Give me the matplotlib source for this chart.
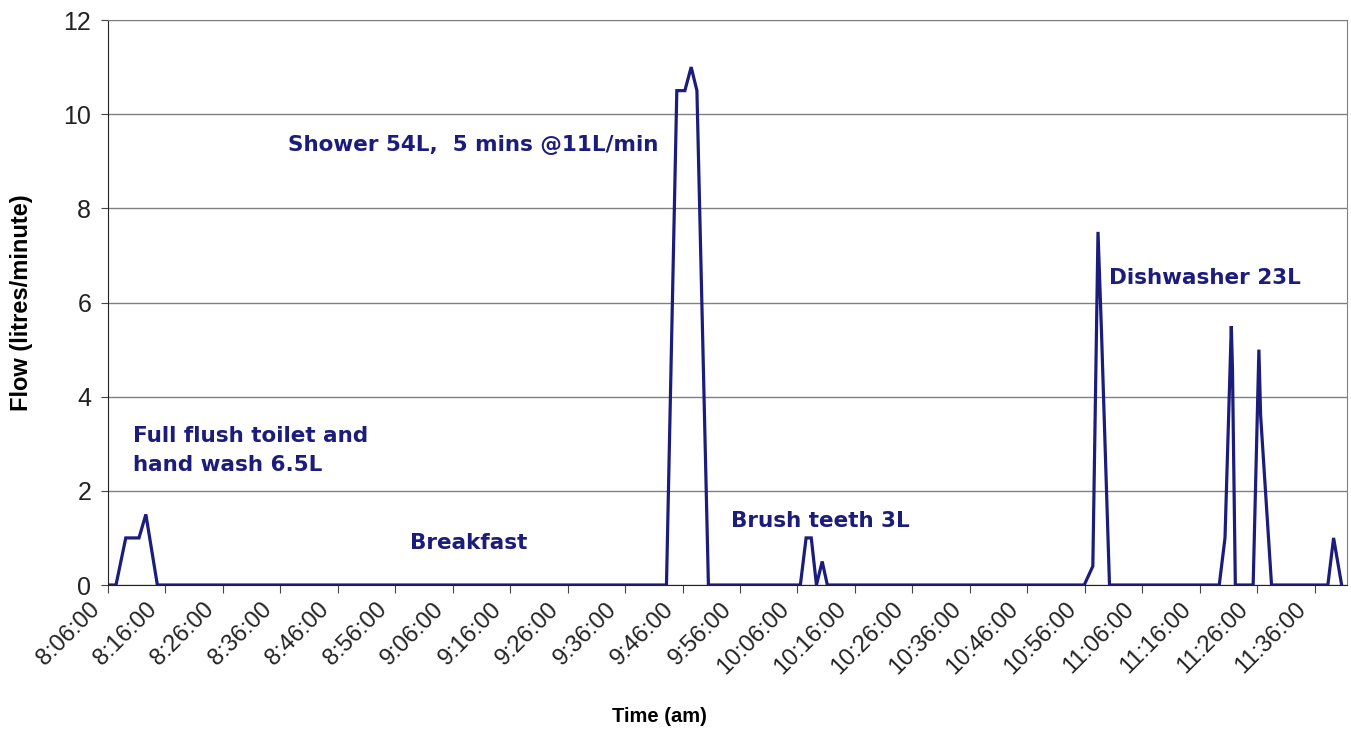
import matplotlib.pyplot as plt
from matplotlib.transforms import ScaledTranslation

# minutes after 8:06 and flow (litres/minute)
flush_t = [0, 1.4, 3.1, 5.4, 6.6, 8.6]
flush_q = [0, 0, 1.0, 1.0, 1.5, 0]

shower_t = [97.2, 99.0, 100.4, 101.5, 102.5, 104.5]
shower_q = [0, 10.5, 10.5, 11.0, 10.5, 0]

teeth_t = [120.5, 121.5, 122.4, 123.3, 124.3, 125.2]
teeth_q = [0, 1.0, 1.0, 0, 0.5, 0]

dish_t = [169.9, 171.4, 172.3, 172.9, 174.3,
          193.4, 194.4, 195.5, 195.7, 196.2,
          199.3, 200.3, 200.6, 202.5,
          212.3, 213.3, 214.7]
dish_q = [0, 0.4, 7.5, 5.4, 0,
          0, 1.0, 5.5, 4.6, 0,
          0, 5.0, 3.6, 0,
          0, 1.0, 0]

tick_minutes = list(range(0, 211, 10))
tick_labels = ['%d:%02d:00' % ((8 * 60 + 6 + m) // 60, (8 * 60 + 6 + m) % 60) for m in tick_minutes]

notes = [
    ('Full flush toilet and\nhand wash 6.5L', 4.3, 2.85),
    ('Shower 54L,  5 mins @11L/min', 31.3, 9.35),
    ('Breakfast', 52.5, 0.89),
    ('Brush teeth 3L', 108.5, 1.36),
    ('Dishwasher 23L', 174.2, 6.52),
]

t = flush_t + shower_t + teeth_t + dish_t
q = flush_q + shower_q + teeth_q + dish_q

navy = '#1c1c7c'

fig = plt.figure(figsize=(13.51, 7.33), dpi=100)
ax = fig.add_axes([0.0799, 0.2019, 0.917, 0.7708])

ax.plot(t, q, color=navy, lw=2.3, solid_joinstyle='miter')

ax.set_xlim(0, 215.6)
ax.set_ylim(0, 12)
ax.set_yticks(range(0, 13, 2))
ax.set_xticks(tick_minutes)

ax.grid(axis='y', color='#808080', lw=1)
ax.set_axisbelow(True)
for s in ['top', 'right']:
    ax.spines[s].set_color('#808080')
ax.spines['left'].set_color('#222222')
ax.spines['bottom'].set_color('#222222')
ax.tick_params(axis='x', length=6, color='#444444', pad=9)
ax.tick_params(axis='y', length=5, color='#444444', pad=7)

ax.set_xticklabels(tick_labels, rotation=45, ha='right', va='center', rotation_mode='anchor',
                   fontsize=17, family='Liberation Sans', color='#222222')
# labels sit a little left of their ticks, like the original
shift = ScaledTranslation(-12 / 100, 0, fig.dpi_scale_trans)
for lab in ax.get_xticklabels():
    lab.set_transform(lab.get_transform() + shift)
for lab in ax.get_yticklabels():
    lab.set_fontsize(18)
    lab.set_family('Liberation Sans')
    lab.set_color('#222222')

ax.set_xlabel('Time (am)', fontsize=14.5, fontweight='bold', family='Liberation Sans', va='center')
ax.xaxis.set_label_coords(0.445, -0.2336)
ax.set_ylabel('Flow (litres/minute)', fontsize=17, fontweight='bold', family='Liberation Sans', va='center')
ax.yaxis.set_label_coords(-0.0694, 0.5)

for txt, x, y in notes:
    ax.text(x, y, txt, color=navy, fontsize=15.5, fontweight='bold', va='center', ha='left',
            family='DejaVu Sans', linespacing=1.55)

fig.savefig('out.png', dpi=100)
